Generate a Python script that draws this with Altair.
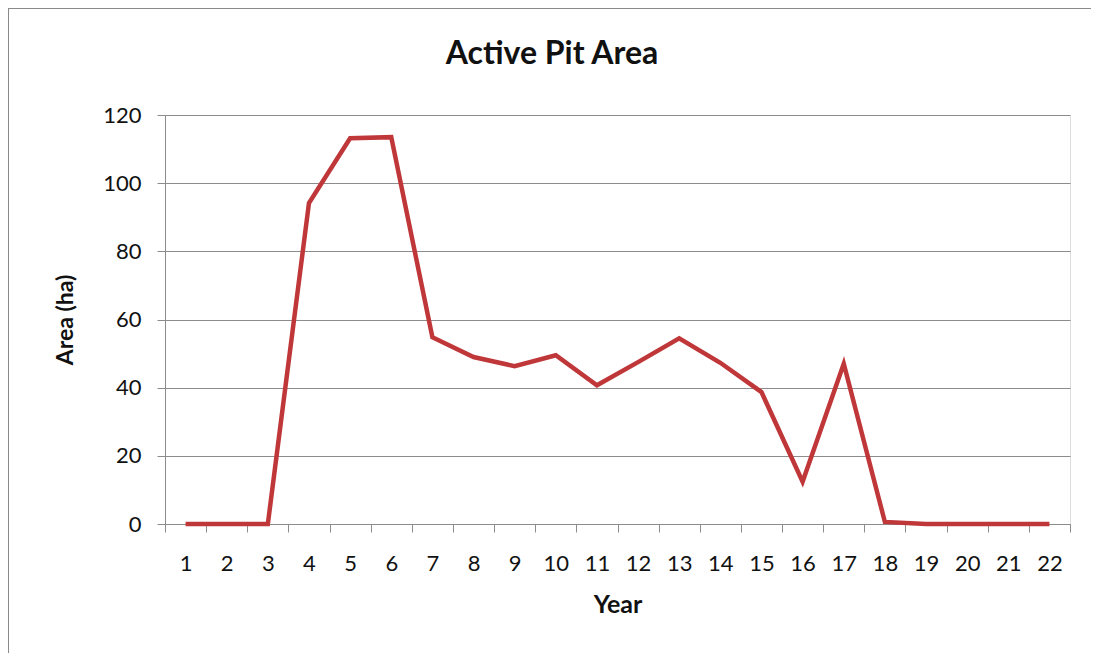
import altair as alt
import pandas as pd

years = list(range(1, 23))
area = [0, 0, 0, 94.2, 113.2, 113.5, 54.8, 49.0, 46.3, 49.5, 40.7, 47.5,
        54.5, 47.3, 38.7, 12.4, 47.0, 0.6, 0, 0, 0, 0]
chart_title = ["Active Pit Area"]

df = pd.DataFrame({"Year": years, "Area": area})

W, H = 905, 409
FONT = "Lato"
GRID = "#8c8c8c"
tick_vals = [i + 0.5 for i in range(0, 23)]

line = alt.Chart(df).mark_line(color="#C0373A", strokeWidth=4.5, strokeJoin="miter").encode(
    x=alt.X("Year:Q",
            scale=alt.Scale(domain=[0.5, 22.5], nice=False, zero=False),
            axis=alt.Axis(values=tick_vals,
                          labelExpr="datum.value < 22 ? format(datum.value + 0.5, 'd') : ''",
                          labelOffset=W / 22 / 2,
                          labelAlign="center",
                          labelFlush=False,
                          labelOverlap=False,
                          grid=False,
                          tickSize=8,
                          tickColor=GRID,
                          domainColor=GRID,
                          labelPadding=21,
                          labelFontSize=22,
                          labelFont=FONT,
                          labelColor="#111",
                          title="Year",
                          titleFont=FONT,
                          titleFontSize=25,
                          titleFontWeight="bold",
                          titleColor="#111",
                          titlePadding=18)),
    y=alt.Y("Area:Q",
            scale=alt.Scale(domain=[0, 120], nice=False),
            axis=alt.Axis(values=[0, 20, 40, 60, 80, 100, 120],
                          grid=True,
                          gridColor=GRID,
                          gridWidth=1,
                          tickSize=8,
                          tickColor=GRID,
                          domainColor=GRID,
                          labelPadding=16,
                          labelFontSize=22,
                          labelFont=FONT,
                          labelColor="#111",
                          title="Area (ha)",
                          titleFont=FONT,
                          titleFontSize=23,
                          titleFontWeight="bold",
                          titleColor="#111",
                          titlePadding=25)),
)

title = alt.Chart(pd.DataFrame({"t": chart_title})).mark_text(
    font=FONT, fontSize=32, fontWeight="bold", color="#111", baseline="middle", align="center"
).encode(text="t:N", x=alt.value(387), y=alt.value(-61))

border = alt.Chart(pd.DataFrame({"k": [0]})).mark_rule(color="#8a8a8a", strokeWidth=2).encode(
    x=alt.value(-157), x2=alt.value(W + 40), y=alt.value(-107)
)
border2 = alt.Chart(pd.DataFrame({"k": [0]})).mark_rule(color="#8a8a8a", strokeWidth=2).encode(
    x=alt.value(-157), y=alt.value(-107), y2=alt.value(H + 140)
)

chart = alt.layer(line, title, border, border2).properties(
    width=W,
    height=H,
    autosize=alt.AutoSizeParams(type="none"),
    padding={"left": 157, "top": 107, "right": 21, "bottom": 129},
).configure_view(stroke=None).configure(background="white")

chart.save("out.html", embed_options={"renderer": "svg", "actions": False})
